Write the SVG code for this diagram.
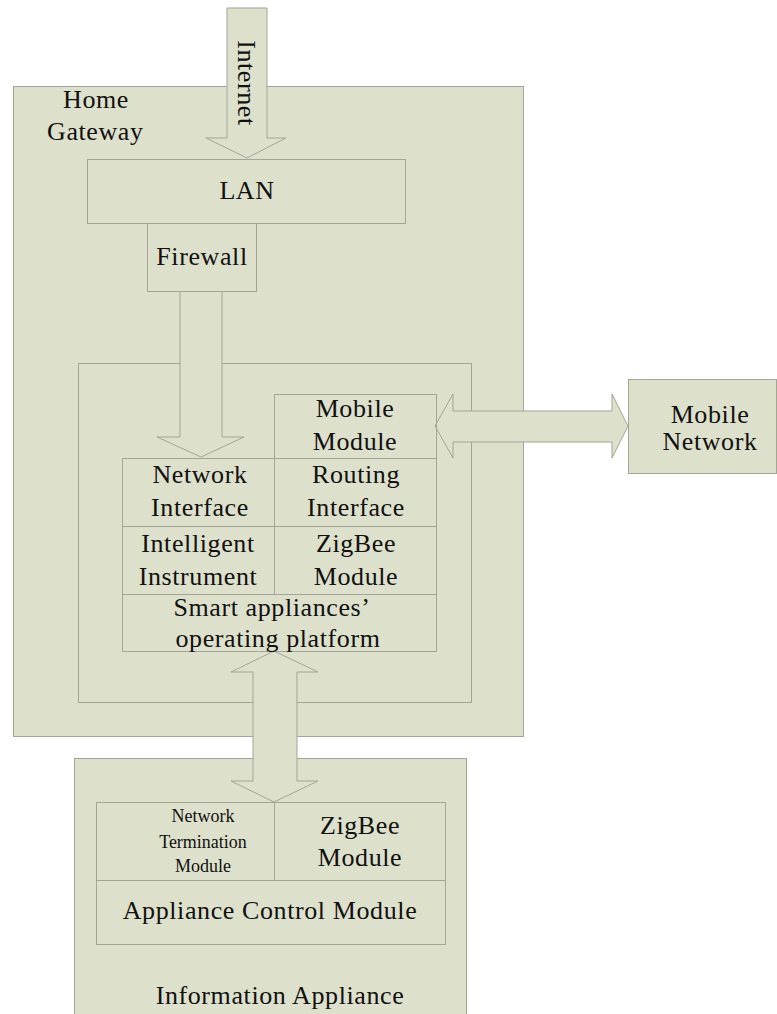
<svg xmlns="http://www.w3.org/2000/svg" width="777" height="1014" viewBox="0 0 777 1014">
<style>
.box{fill:#dde0cb;stroke:#a3a597;stroke-width:1}
.cell{fill:none;stroke:#a3a597;stroke-width:1}
.arr{fill:#dde0cb;stroke:#a3a597;stroke-width:1}
text{font-family:"Liberation Serif","Times New Roman",serif;font-size:26px;fill:#111;letter-spacing:0.6px;text-anchor:middle}
.sm{font-size:18px;letter-spacing:0px}
.l{text-anchor:start}
</style>
<rect width="777" height="1014" fill="#ffffff"/>
<g id="home-gateway">
<rect class="box" x="13.5" y="86.5" width="510" height="650"/>
<text class="l" x="63" y="108">Home</text>
<text class="l" x="47" y="140">Gateway</text>
</g>
<g id="platform-container">
<rect class="cell" x="78.5" y="363.5" width="393" height="339"/>
</g>
<g id="information-appliance">
<rect class="box" x="74.5" y="758.5" width="392" height="270"/>
<text x="280" y="1004">Information Appliance</text>
</g>
<g id="mobile-network">
<rect class="box" x="628.5" y="379.5" width="148" height="94"/>
<text x="710" y="423">Mobile</text>
<text x="710" y="450">Network</text>
</g>
<g id="connectors">
<polygon class="arr" points="227,8 267,8 267,138 286,138 247,158 206,138 227,138"/>
<text transform="translate(238,83) rotate(90)">Internet</text>
<polygon class="arr" points="180,291 222,291 222,437 244,437 201,457 157,437 180,437"/>
<polygon class="arr" points="435,426 453,394 453,411 612,411 612,394 628,426 612,458 612,442 453,442 453,458"/>
<polygon class="arr" points="274,651 318,672 297,672 297,781 318,781 274,802 231,781 253,781 253,672 231,672"/>
</g>
<g id="lan">
<rect class="box" x="87.5" y="159.5" width="318" height="64"/>
<text x="247" y="199">LAN</text>
</g>
<g id="firewall">
<rect class="box" x="147.5" y="223.5" width="109" height="68"/>
<text x="202" y="265">Firewall</text>
</g>
<g id="mobile-module">
<rect class="cell" x="274.5" y="394.5" width="162" height="64"/>
<text x="355" y="417">Mobile</text>
<text x="355" y="450">Module</text>
</g>
<g id="network-interface">
<rect class="cell" x="122.5" y="458.5" width="152" height="68"/>
<text x="200" y="483">Network</text>
<text x="200" y="516">Interface</text>
</g>
<g id="routing-interface">
<rect class="cell" x="274.5" y="458.5" width="162" height="68"/>
<text x="356" y="483">Routing</text>
<text x="356" y="516">Interface</text>
</g>
<g id="intelligent-instrument">
<rect class="cell" x="122.5" y="526.5" width="152" height="68"/>
<text x="198" y="552">Intelligent</text>
<text x="198" y="585">Instrument</text>
</g>
<g id="zigbee-module-gw">
<rect class="cell" x="274.5" y="526.5" width="162" height="68"/>
<text x="356" y="552">ZigBee</text>
<text x="356" y="585">Module</text>
</g>
<g id="smart-platform">
<rect class="cell" x="122.5" y="594.5" width="314" height="57"/>
<text x="272" y="616">Smart appliances’</text>
<text x="278" y="647">operating platform</text>
</g>
<g id="network-termination">
<rect class="cell" x="96.5" y="802.5" width="178" height="78"/>
<text class="sm" x="203" y="822">Network</text>
<text class="sm" x="203" y="848">Termination</text>
<text class="sm" x="203" y="872">Module</text>
</g>
<g id="zigbee-module-app">
<rect class="cell" x="274.5" y="802.5" width="171" height="78"/>
<text x="360" y="834">ZigBee</text>
<text x="360" y="866">Module</text>
</g>
<g id="appliance-control">
<rect class="cell" x="96.5" y="880.5" width="349" height="64"/>
<text x="270" y="919">Appliance Control Module</text>
</g>
</svg>
